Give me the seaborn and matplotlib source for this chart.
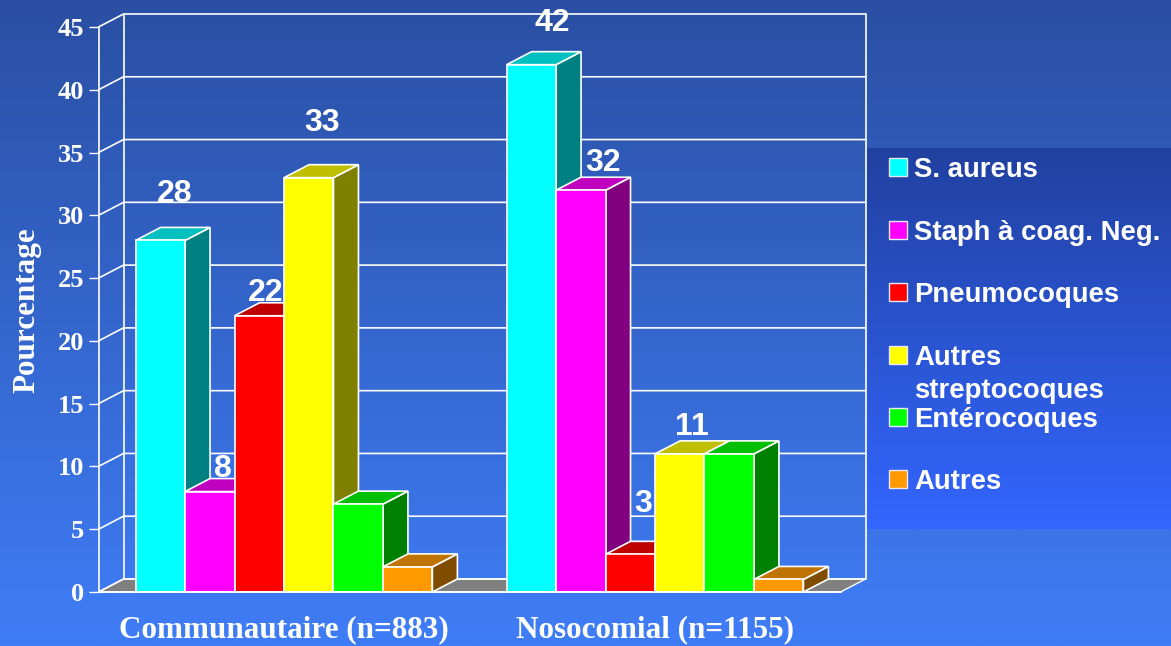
import numpy as np
import pandas as pd
import seaborn as sns
import matplotlib
matplotlib.use("Agg")
import matplotlib.pyplot as plt
from matplotlib.colors import LinearSegmentedColormap, to_rgb
from matplotlib.patches import Polygon, Rectangle

sites = ["Communautaire (n=883)", "Nosocomial (n=1155)"]
organisms = ["S. aureus", "Staph à coag. Neg.", "Pneumocoques",
             "Autres streptocoques", "Entérocoques", "Autres"]
key_lines = [["S. aureus"], ["Staph à coag. Neg."], ["Pneumocoques"],
             ["Autres", "streptocoques"], ["Entérocoques"], ["Autres"]]
colors = ["#00ffff", "#ff00ff", "#ff0000", "#ffff00", "#00ff00", "#ff9900"]
community = [28, 8, 22, 33, 7, 2]
hospital = [42, 32, 3, 11, 11, 1]
community_labels = [28, 8, 22, 33, None, None]
hospital_labels = [42, 32, 3, 11, None, None]
y_ticks = [0, 5, 10, 15, 20, 25, 30, 35, 40, 45]

W, H = 1171, 646
SERIF = "Liberation Serif"
SANS = "Liberation Sans"

sns.set_theme(style="white")
plt.rcParams["font.family"] = SANS

fig = plt.figure(figsize=(W / 100, H / 100), dpi=100)

# Full-figure layer in pixel units: backdrop gradient and key panel
bg = fig.add_axes([0, 0, 1, 1], zorder=0)
ramp = np.linspace(0, 1, 256).reshape(-1, 1)
bg.imshow(ramp, extent=[0, W, H, 0], aspect="auto", zorder=0,
          cmap=LinearSegmentedColormap.from_list("back", ["#2a4fa3", "#3f7df7"]))
bg.imshow(ramp, extent=[867, W, 529, 148], aspect="auto", zorder=1,
          cmap=LinearSegmentedColormap.from_list("panel", ["#2141a0", "#3366ff"]))
bg.set_xlim(0, W)
bg.set_ylim(H, 0)
bg.axis("off")

# Key entries; a wrapped name takes a second, wider-spaced line
key_rows = [167, 230, 292, 355, 417, 479]
for lines, col, yc in zip(key_lines, colors, key_rows):
    bg.add_patch(Rectangle((889, yc - 9), 18, 18, facecolor=col,
                           edgecolor="#e8e8f4", linewidth=1, zorder=2))
    for k, line in enumerate(lines):
        bg.text(914.5, yc + 3 + 33 * k, line, color="white", fontsize=19.8,
                fontweight="bold", family=SANS, va="center", zorder=2)

# Chart axes: the front plane of the 3D box
left, right, top, bottom = 98.5, 840.5, 27, 592
ax = fig.add_axes([left / W, 1 - bottom / H, (right - left) / W, (bottom - top) / H],
                  zorder=1)
ax.patch.set_alpha(0)

frame = pd.DataFrame({
    "site": np.repeat(sites, len(organisms)),
    "organism": organisms * 2,
    "pct": community + hospital,
})
sns.barplot(data=frame, x="site", y="pct", hue="organism", order=sites,
            hue_order=organisms, palette=colors, width=0.8, gap=0, saturation=1,
            edgecolor="white", linewidth=1.2, legend=False, ax=ax)
ax.set_xlim(-0.5, 1.5)
ax.set_ylim(0, 45)

# Depth of the box expressed in data units
dx = 25 / ((right - left) / 2)
dy = 13 / ((bottom - top) / 45)
x0, x1 = -0.5, 1.5
LINE = dict(color="white", lw=1.2, clip_on=False, zorder=1, solid_capstyle="round")

# Floor, walls and grid
ax.add_patch(Polygon([(x0, 0), (x0 + dx, dy), (x1 + dx, dy), (x1, 0)], closed=True,
                     facecolor="#808080", edgecolor="white", lw=1.0,
                     clip_on=False, zorder=0.5))
for t in y_ticks:
    ax.plot([x0, x0 + dx, x1 + dx], [t, t + dy, t + dy], **LINE)
ax.plot([x0, x0], [0, 45], **LINE)
ax.plot([x0 + dx, x0 + dx], [dy, 45 + dy], **LINE)
ax.plot([x1 + dx, x1 + dx], [dy, 45 + dy], **LINE)
ax.plot([x0, x1], [0, 0], color="white", lw=1.4, clip_on=False, zorder=60)


def shade(col, factor):
    return tuple(c * factor for c in to_rgb(col))


# Extrude each bar: drawn left to right so that later fronts cover earlier sides
bars = sorted(((bar, colors[h]) for h, c in enumerate(ax.containers) for bar in c),
              key=lambda item: item[0].get_x())
order = 2.0
for bar, col in bars:
    xa, xb, v = bar.get_x(), bar.get_x() + bar.get_width(), bar.get_height()
    ax.add_patch(Polygon([(xb, 0), (xb + dx, dy), (xb + dx, v + dy), (xb, v)], closed=True,
                         facecolor=shade(col, 0.5), edgecolor="white", lw=1.2,
                         clip_on=False, zorder=order))
    ax.add_patch(Polygon([(xa, v), (xa + dx, v + dy), (xb + dx, v + dy), (xb, v)], closed=True,
                         facecolor=shade(col, 0.75), edgecolor="white", lw=1.2,
                         clip_on=False, zorder=order))
    bar.set_zorder(order + 0.5)
    bar.set_clip_on(False)
    order += 1

# Value labels above the bars
label_shift = [(14, 46), (13, 23), (6, 23), (13, 55), (0, 0), (0, 0),
               (21, 42), (22, 27), (13, 50), (12, 27), (0, 0), (0, 0)]
label_values = community_labels + hospital_labels
for (bar, _), text, (sx, sy) in zip(bars, label_values, label_shift):
    if text is None:
        continue
    ax.annotate(str(text), (bar.get_x() + bar.get_width() / 2, bar.get_height()),
                xytext=(sx * 0.72, sy * 0.72), textcoords="offset points",
                ha="center", va="center", color="white", fontsize=23,
                fontweight="bold", family=SANS, annotation_clip=False, zorder=70)

# Axis furniture
sns.despine(ax=ax, left=True, bottom=True)
ax.set_yticks(y_ticks)
ax.tick_params(axis="y", left=True, length=7.2, width=1, color="white", pad=3,
               labelcolor="white", labelsize=19)
ax.tick_params(axis="x", bottom=False, pad=11, labelcolor="white", labelsize=22.4)
for lab in ax.get_yticklabels() + ax.get_xticklabels():
    lab.set_family(SERIF)
    lab.set_fontweight("bold")
ax.set_xlabel("")
ax.set_ylabel("Pourcentage", color="white", fontsize=22.4, fontweight="bold",
              family=SERIF, labelpad=0)
ax.yaxis.set_label_coords((41 - left) / (right - left), (592 - 310) / (bottom - top))

fig.savefig("out.png", dpi=100)
